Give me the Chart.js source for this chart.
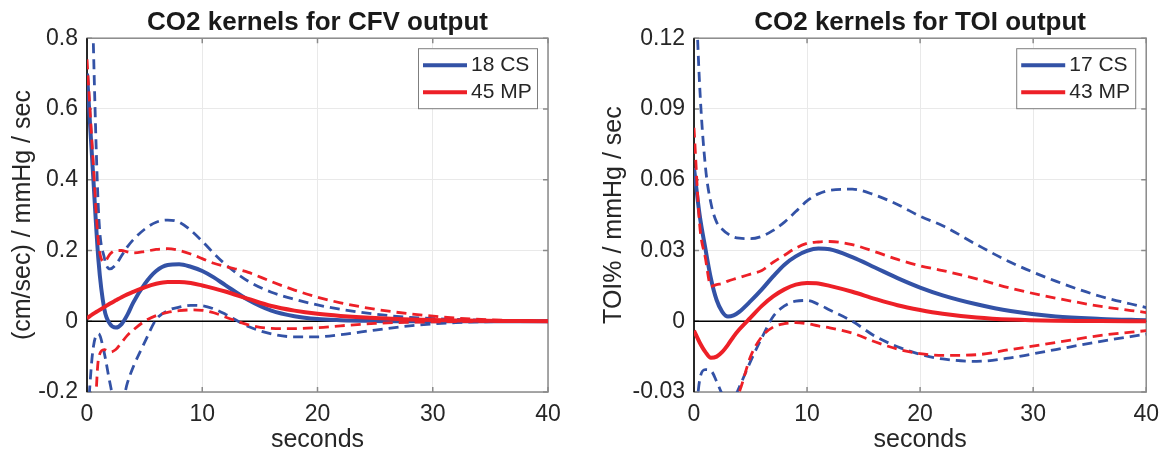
<!DOCTYPE html>
<html>
<head>
<meta charset="utf-8">
<script src="https://cdn.jsdelivr.net/npm/chart.js@4/dist/chart.umd.min.js"></script>
<style>
  body { margin: 0; background: #fff; }
  .panel { position: absolute; top: 0; width: 584px; height: 459px; }
  #left { left: 0; }
  #right { left: 584px; }
</style>
</head>
<body>
<div class="panel" id="left"><canvas id="cfvChart"></canvas></div>
<div class="panel" id="right"><canvas id="toiChart"></canvas></div>
<script>
// time axis shared by every curve (seconds)
const seconds = [0, 0.5, 1, 1.5, 2, 2.5, 3, 3.5, 4, 5, 6, 7, 8, 9, 10, 11, 12, 14, 16, 18, 20, 22, 25, 28, 32, 36, 40];

// CFV kernels
const cfvCsMean  = [0.70, 0.43, 0.17, 0.035, -0.008, -0.018, -0.008, 0.018, 0.052, 0.105, 0.142, 0.159, 0.161, 0.154, 0.142, 0.124, 0.102, 0.06, 0.03, 0.014, 0.006, 0.003, 0.001, 0, 0, 0, 0];
const cfvCsUpper = [1.6, 0.85, 0.31, 0.18, 0.148, 0.16, 0.185, 0.21, 0.23, 0.26, 0.28, 0.286, 0.28, 0.257, 0.226, 0.192, 0.161, 0.113, 0.082, 0.062, 0.046, 0.034, 0.02, 0.011, 0.005, 0.002, 0];
const cfvCsLower = [-0.3, -0.085, -0.035, -0.09, -0.176, -0.24, -0.235, -0.175, -0.13, -0.06, 0.005, 0.03, 0.04, 0.045, 0.044, 0.035, 0.02, -0.015, -0.036, -0.044, -0.044, -0.038, -0.025, -0.013, -0.004, -0.001, 0];
const cfvMpMean  = [0.008, 0.02, 0.03, 0.04, 0.05, 0.059, 0.068, 0.076, 0.083, 0.096, 0.106, 0.111, 0.111, 0.108, 0.101, 0.093, 0.084, 0.063, 0.043, 0.03, 0.021, 0.015, 0.009, 0.005, 0.002, 0.001, 0];
const cfvMpUpper = [0.74, 0.47, 0.22, 0.168, 0.19, 0.2, 0.2, 0.196, 0.193, 0.197, 0.203, 0.205, 0.2, 0.19, 0.177, 0.164, 0.155, 0.138, 0.112, 0.088, 0.068, 0.052, 0.034, 0.021, 0.009, 0.003, 0];
const cfvMpLower = [-0.5, -0.4, -0.105, -0.08, -0.087, -0.08, -0.06, -0.04, -0.025, 0.0, 0.016, 0.025, 0.03, 0.032, 0.031, 0.024, 0.012, -0.01, -0.02, -0.021, -0.018, -0.013, -0.006, -0.003, -0.001, 0, 0];

// TOI kernels
const toiCsMean  = [0.065, 0.045, 0.031, 0.018, 0.009, 0.004, 0.002, 0.0025, 0.004, 0.0085, 0.0135, 0.019, 0.024, 0.0275, 0.0298, 0.0308, 0.0305, 0.0272, 0.0228, 0.0183, 0.0143, 0.011, 0.0072, 0.0043, 0.002, 0.001, 0.0004];
const toiCsUpper = [0.16, 0.1, 0.066, 0.05, 0.042, 0.039, 0.037, 0.0357, 0.0352, 0.035, 0.036, 0.0385, 0.042, 0.0465, 0.051, 0.054, 0.0555, 0.056, 0.0535, 0.0495, 0.0445, 0.0405, 0.0325, 0.025, 0.017, 0.0105, 0.0058];
const toiCsLower = [-0.05, -0.025, -0.0205, -0.021, -0.0255, -0.031, -0.035, -0.033, -0.028, -0.017, -0.007, 0.002, 0.0065, 0.0085, 0.0088, 0.0072, 0.0048, 0.0, -0.0063, -0.0108, -0.014, -0.016, -0.017, -0.0155, -0.012, -0.0085, -0.0055];
const toiMpMean  = [-0.004, -0.009, -0.013, -0.0155, -0.015, -0.013, -0.01, -0.0065, -0.0035, 0.0015, 0.0065, 0.0105, 0.0135, 0.0155, 0.0162, 0.016, 0.015, 0.0125, 0.0095, 0.0068, 0.0048, 0.0032, 0.0016, 0.0007, 0.0002, 0.0001, 0];
const toiMpUpper = [0.082, 0.041, 0.027, 0.0148, 0.0155, 0.016, 0.017, 0.0178, 0.0185, 0.02, 0.0215, 0.025, 0.028, 0.031, 0.033, 0.0336, 0.0338, 0.0325, 0.0295, 0.0262, 0.0235, 0.0215, 0.018, 0.014, 0.0098, 0.0063, 0.0037];
const toiMpLower = [-0.08, -0.07, -0.062, -0.055, -0.049, -0.043, -0.038, -0.034, -0.03, -0.015, -0.0065, -0.0025, -0.001, -0.0006, -0.001, -0.002, -0.0028, -0.005, -0.0087, -0.0118, -0.0137, -0.0145, -0.0142, -0.012, -0.009, -0.006, -0.004];

const BLUE = '#3352a6';
const RED = '#ed2027';
const FONT = '"Liberation Sans", Arial, Helvetica, sans-serif';
const TEXT = '#262626';

// gray box, inward ticks on all sides, black zero lines
const matlabAxes = {
  id: 'matlabAxes',
  beforeDatasetsDraw(chart) {
    const { ctx, chartArea: a, scales: { x, y } } = chart;
    ctx.save();
    ctx.strokeStyle = '#8a8a8a';
    ctx.lineWidth = 1.5;
    ctx.strokeRect(a.left, a.top, a.right - a.left, a.bottom - a.top);
    ctx.beginPath();
    x.ticks.forEach(t => {
      const px = x.getPixelForValue(t.value);
      ctx.moveTo(px, a.bottom); ctx.lineTo(px, a.bottom - 5);
      ctx.moveTo(px, a.top); ctx.lineTo(px, a.top + 5);
    });
    y.ticks.forEach(t => {
      const py = y.getPixelForValue(t.value);
      ctx.moveTo(a.left, py); ctx.lineTo(a.left + 5, py);
      ctx.moveTo(a.right, py); ctx.lineTo(a.right - 5, py);
    });
    ctx.stroke();
    ctx.strokeStyle = '#000';
    ctx.lineWidth = 1.5;
    const y0 = y.getPixelForValue(0);
    const x0 = x.getPixelForValue(0);
    ctx.beginPath();
    ctx.moveTo(a.left, y0); ctx.lineTo(a.right, y0);
    ctx.moveTo(x0, a.top); ctx.lineTo(x0, a.bottom);
    ctx.stroke();
    ctx.restore();
  }
};

// boxed legend in the top right corner, solid lines only
const boxLegend = {
  id: 'boxLegend',
  afterDatasetsDraw(chart) {
    const { ctx, chartArea: a } = chart;
    const items = chart.data.datasets.filter(d => !d.borderDash);
    const w = 119, h = 60;
    const left = a.right - 11 - w, top = a.top + 10;
    ctx.save();
    ctx.fillStyle = '#fff';
    ctx.fillRect(left, top, w, h);
    ctx.strokeStyle = '#7f7f7f';
    ctx.lineWidth = 1;
    ctx.strokeRect(left + 0.5, top + 0.5, w, h);
    ctx.font = '21px ' + FONT;
    ctx.textBaseline = 'middle';
    items.forEach((d, i) => {
      const yy = top + 17 + i * 27;
      ctx.strokeStyle = d.borderColor;
      ctx.lineWidth = 4;
      ctx.beginPath();
      ctx.moveTo(left + 5, yy);
      ctx.lineTo(left + 49, yy);
      ctx.stroke();
      ctx.fillStyle = TEXT;
      ctx.fillText(d.label, left + 53, yy);
    });
    ctx.restore();
  }
};

const pts = vals => seconds.map((t, i) => ({ x: t, y: vals[i] }));

const line = (label, vals, color, dashed, order) => ({
  label,
  data: pts(vals),
  borderColor: color,
  borderWidth: dashed ? 2.8 : 4,
  borderDash: dashed ? [10, 6] : undefined,
  pointRadius: 0,
  cubicInterpolationMode: 'monotone',
  fill: false,
  clip: 0,
  order
});

function buildChart(id, c) {
  new Chart(document.getElementById(id), {
    type: 'line',
    data: {
      datasets: [
        line(c.csLabel, c.csMean, BLUE, false, 3),
        line(c.mpLabel, c.mpMean, RED, false, 0),
        line('CS upper', c.csUpper, BLUE, true, 4),
        line('CS lower', c.csLower, BLUE, true, 4),
        line('MP upper', c.mpUpper, RED, true, 1),
        line('MP lower', c.mpLower, RED, true, 1)
      ]
    },
    options: {
      responsive: true,
      maintainAspectRatio: false,
      animation: false,
      devicePixelRatio: 1,
      layout: { padding: { left: 0, right: c.padRight, top: 0, bottom: 0 } },
      plugins: {
        legend: { display: false },
        tooltip: { enabled: false },
        title: {
          display: true,
          text: c.title,
          fullSize: false,
          color: '#1a1a1a',
          font: { family: FONT, size: 26, weight: 'bold', lineHeight: 1.2 },
          padding: { top: 7, bottom: 0 }
        }
      },
      scales: {
        x: {
          type: 'linear',
          min: 0,
          max: 40,
          ticks: { stepSize: 10, color: TEXT, font: { family: FONT, size: 23 }, padding: 9, maxRotation: 0 },
          grid: { color: '#e9e9e9', drawTicks: false },
          border: { display: false },
          title: { display: true, text: 'seconds', color: TEXT, font: { family: FONT, size: 25, lineHeight: 1.2 }, padding: { top: 0, bottom: 4 } },
          afterFit: s => { s.height = 67; }
        },
        y: {
          min: c.yMin,
          max: c.yMax,
          ticks: {
            stepSize: c.yStep,
            color: TEXT,
            font: { family: FONT, size: 23 },
            padding: 9,
            callback: v => String(+v.toFixed(2))
          },
          grid: { color: '#e9e9e9', drawTicks: false },
          border: { display: false },
          title: { display: true, text: c.yLabel, color: TEXT, font: { family: FONT, size: 25, lineHeight: 1.2 }, padding: { top: c.yTitlePad, bottom: 0 } },
          afterFit: s => { s.width = c.yWidth; }
        }
      }
    },
    plugins: [matlabAxes, boxLegend]
  });
}

buildChart('cfvChart', {
  title: 'CO2 kernels for CFV output',
  yLabel: '(cm/sec) / mmHg / sec',
  csLabel: '18 CS', mpLabel: '45 MP',
  csMean: cfvCsMean, csUpper: cfvCsUpper, csLower: cfvCsLower,
  mpMean: cfvMpMean, mpUpper: cfvMpUpper, mpLower: cfvMpLower,
  yMin: -0.2, yMax: 0.8, yStep: 0.2,
  yWidth: 87, padRight: 36, yTitlePad: 8
});

buildChart('toiChart', {
  title: 'CO2 kernels for TOI output',
  yLabel: 'TOI% / mmHg / sec',
  csLabel: '17 CS', mpLabel: '43 MP',
  csMean: toiCsMean, csUpper: toiCsUpper, csLower: toiCsLower,
  mpMean: toiMpMean, mpUpper: toiMpUpper, mpLower: toiMpLower,
  yMin: -0.03, yMax: 0.12, yStep: 0.03,
  yWidth: 110, padRight: 13, yTitlePad: 15
});
</script>
</body>
</html>
